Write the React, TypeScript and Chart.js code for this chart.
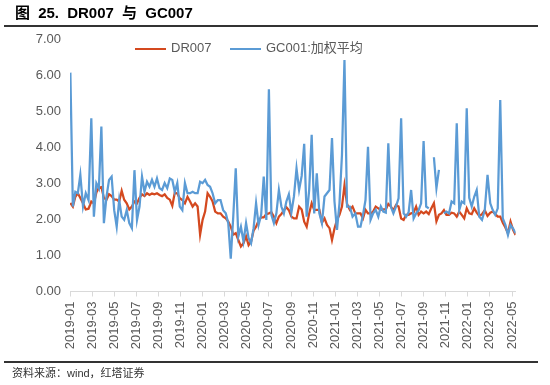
import React, { useEffect, useRef } from "react";
import { Chart, registerables } from "chart.js";

Chart.register(...registerables);

// ---- data (weekly samples starting 2019-01-02) ----
const START_DATE = "2019-01-02";
const STEP_DAYS = 7;

const DR007: (number | null)[] = [
  2.46, 2.36, 2.63, 2.73, 2.6, 2.45, 2.28, 2.3, 2.5, 2.45,
  2.75, 2.88, 2.9, 2.6, 2.55, 2.7, 2.65, 2.55, 2.55, 2.5,
  2.8, 2.55, 2.45, 2.28, 2.36, 2.5, 2.45, 2.6, 2.7, 2.65,
  2.73, 2.68, 2.72, 2.7, 2.73, 2.68, 2.65, 2.7, 2.6, 2.55,
  2.38, 2.75, 2.72, 2.59, 2.54, 2.45, 2.63, 2.5, 2.36, 2.45,
  2.36, 1.58, 1.99, 2.22, 2.73, 2.63, 2.5, 2.22, 2.17, 2.17,
  2.08, 2.03, 1.94, 1.8, 1.58, 1.62, 1.43, 1.25, 1.34, 1.53,
  1.29, 1.39, 1.69, 1.8, 1.97, 2.06, 2.06, 2.15, 2.17, 2.2,
  2.08, 1.9, 2.08, 2.15, 2.26, 2.34, 2.26, 2.08, 2.03, 2.03,
  2.36, 2.28, 1.94, 1.8, 2.17, 2.45, 2.27, 2.27, 2.27, 1.91,
  2.03, 1.85, 1.76, 1.43, 1.75, 1.99, 2.13, 2.36, 2.95, 2.43,
  2.27, 2.36, 2.17, 2.17, 2.17, 2.03, 2.27, 2.17, 2.17, 2.22,
  2.36, 2.31, 2.27, 2.28, 2.28, 2.43, 2.36, 2.25, 2.4, 2.36,
  2.03, 1.99, 2.13, 2.13, 2.17, 2.19, 2.36, 2.13, 2.22, 2.17,
  2.22, 2.15, 2.31, 2.45, 1.95, 2.13, 2.17, 2.26, 2.13, 2.13,
  2.19, 2.17, 2.08, 2.22, 2.13, 2.03, 2.31, 2.17, 2.15, 2.31,
  2.19, 2.1, 2.15, 2.26, 2.1, 2.19, 2.22, 2.15, 2.08, 2.08,
  1.91, 1.78, 1.62, 1.94, 1.71, 1.57,
];

const GC001: (number | null)[] = [
  6.08, 2.36, 2.77, 2.73, 3.24, 2.36, 2.73, 2.54, 4.81, 2.08,
  3.01, 2.87, 4.58, 1.9, 2.63, 3.1, 3.19, 2.26, 1.8, 2.54,
  2.08, 1.99, 2.26, 1.9, 1.76, 3.37, 1.99, 2.36, 3.19, 2.77,
  3.05, 2.91, 3.1, 2.91, 3.14, 2.87, 2.82, 3.01, 2.87, 3.14,
  3.1, 2.77, 3.01, 2.36, 2.26, 3.01, 2.73, 2.73, 2.77, 2.73,
  2.73, 3.05, 3.01, 3.1, 2.96, 2.91, 2.73, 2.45, 2.54, 2.54,
  2.26, 2.17, 1.9, 0.91, 2.08, 3.42, 1.53, 1.8, 1.39, 1.9,
  1.48, 1.34, 1.76, 2.45, 1.85, 2.13, 3.19, 1.99, 5.62, 2.13,
  1.9, 2.17, 2.82, 2.36, 2.17, 2.5, 2.7, 2.19, 2.64, 3.42,
  2.82, 3.21, 4.1, 2.08, 2.82, 4.35, 2.17, 3.28, 2.17, 1.9,
  2.64, 2.73, 2.82, 4.26, 2.5, 1.71, 2.45, 3.8, 6.43, 2.36,
  2.36, 2.08, 2.17, 1.8, 1.8, 2.13, 2.54, 4.02, 1.99, 2.17,
  2.27, 2.08, 2.36, 2.22, 2.19, 4.12, 2.36, 2.17, 2.36, 2.59,
  4.81, 2.17, 2.08, 2.2, 2.82, 2.03, 2.17, 2.26, 2.45, 4.18,
  2.36, 2.31, null, 3.73, 2.87, 3.38, null, 2.17, 2.22, 2.17,
  2.5, 2.45, 4.67, 2.26, 2.5, 2.45, 5.09, 2.6, 2.36, 2.63,
  2.82, 2.08, 1.99, 2.26, 3.24, 2.45, 2.26, 2.13, 2.31, 5.32,
  2.03, 1.85, 1.57, 1.85, 1.75, 1.62,
];

const X_TICK_LABELS = [
  "2019-01", "2019-03", "2019-05", "2019-07", "2019-09", "2019-11",
  "2020-01", "2020-03", "2020-05", "2020-07", "2020-09", "2020-11",
  "2021-01", "2021-03", "2021-05", "2021-07", "2021-09", "2021-11",
  "2022-01", "2022-03", "2022-05",
];
const Y_MIN = 0;
const Y_MAX = 7;

const TITLE = "图 25. DR007 与 GC007";
const SOURCE = "资料来源：wind，红塔证券";
const SERIES_NAMES = ["DR007", "GC001:加权平均"];
const COLORS = ["#D4491F", "#5B9BD5"];

// month offset (from 2019-01-01) of the i-th sample date
function monthOffset(i: number): number {
  const [y0, m0, d0] = START_DATE.split("-").map(Number);
  const t = Date.UTC(y0, m0 - 1, d0) + i * STEP_DAYS * 86400000;
  const d = new Date(t);
  const y = d.getUTCFullYear();
  const m = d.getUTCMonth();
  const dim = new Date(Date.UTC(y, m + 1, 0)).getUTCDate();
  return (y - 2019) * 12 + m + (d.getUTCDate() - 1) / dim;
}

const FONT = "'Liberation Sans', Arial, 'Noto Sans CJK SC', sans-serif";

export default function App() {
  const ref = useRef<HTMLCanvasElement | null>(null);

  useEffect(() => {
    if (!ref.current) return;
    const toPts = (arr: (number | null)[]) =>
      arr.map((v, i) => ({ x: monthOffset(i), y: v }));
    const lastX = monthOffset(DR007.length - 1);

    const chart = new Chart(ref.current, {
      type: "line",
      data: {
        datasets: [
          {
            label: SERIES_NAMES[0],
            data: toPts(DR007) as any,
            borderColor: COLORS[0],
            backgroundColor: COLORS[0],
            borderWidth: 2.25,
            pointRadius: 0,
            tension: 0,
            spanGaps: false,
            order: 1,
          },
          {
            label: SERIES_NAMES[1],
            data: toPts(GC001) as any,
            borderColor: COLORS[1],
            backgroundColor: COLORS[1],
            borderWidth: 2.25,
            pointRadius: 0,
            tension: 0,
            spanGaps: false,
            order: 0,
          },
        ],
      },
      options: {
        animation: false,
        responsive: false,
        maintainAspectRatio: false,
        layout: { padding: { left: 8, right: 550 - (70 + lastX * 11.05), top: 39.5, bottom: 33.5 } },
        plugins: { legend: { display: false }, tooltip: { enabled: false }, title: { display: false } },
        scales: {
          x: {
            type: "linear",
            min: 0,
            max: lastX,
            afterFit: (s: any) => {
              s.height = 60;
            },
            grid: {
              display: true,
              drawOnChartArea: false,
              drawTicks: true,
              tickLength: 5,
              color: "#D9D9D9",
            },
            border: { display: true, color: "#D9D9D9", width: 1 },
            ticks: {
              stepSize: 2,
              includeBounds: false,
              autoSkip: false,
              minRotation: 90,
              maxRotation: 90,
              padding: 5,
              color: "#595959",
              font: { family: FONT, size: 13 },
              callback: (v: any) => {
                const idx = Math.round(Number(v) / 2);
                return X_TICK_LABELS[idx] ?? "";
              },
            },
          },
          y: {
            min: Y_MIN,
            max: Y_MAX,
            afterFit: (s: any) => {
              s.width = 62;
            },
            grid: { display: false, drawTicks: false },
            border: { display: false },
            ticks: {
              stepSize: 1,
              padding: 9,
              color: "#595959",
              font: { family: FONT, size: 13 },
              callback: (v: any) => Number(v).toFixed(2),
            },
          },
        },
      },
    });
    return () => chart.destroy();
  }, []);

  const legendText: React.CSSProperties = {
    position: "absolute",
    top: 40,
    fontFamily: FONT,
    fontSize: 13,
    color: "#595959",
    lineHeight: "16px",
    whiteSpace: "nowrap",
  };

  return (
    <div
      style={{
        position: "absolute",
        left: 0,
        top: 0,
        width: 550,
        height: 385,
        background: "#fff",
        overflow: "hidden",
      }}
    >
      <canvas ref={ref} width={550} height={385} style={{ position: "absolute", left: 0, top: 0, width: 550, height: 385 }} />
      <div
        style={{
          position: "absolute",
          left: 15,
          top: 4,
          fontFamily: FONT,
          fontWeight: "bold",
          fontSize: 15,
          lineHeight: "18px",
          color: "#000",
          whiteSpace: "pre",
          wordSpacing: 4,
        }}
      >
        {TITLE}
      </div>
      <div style={{ position: "absolute", left: 4, top: 25, width: 534, height: 1.5, background: "#333" }} />
      <div style={{ position: "absolute", left: 135, top: 47.5, width: 31, height: 2.5, background: COLORS[0] }} />
      <div style={{ ...legendText, left: 171 }}>{SERIES_NAMES[0]}</div>
      <div style={{ position: "absolute", left: 230, top: 47.5, width: 31, height: 2.5, background: COLORS[1] }} />
      <div style={{ ...legendText, left: 266 }}>{SERIES_NAMES[1]}</div>
      <div style={{ position: "absolute", left: 4, top: 361, width: 534, height: 1.5, background: "#333" }} />
      <div
        style={{
          position: "absolute",
          left: 12,
          top: 366,
          fontFamily: FONT,
          fontSize: 11,
          lineHeight: "14px",
          color: "#333",
          whiteSpace: "nowrap",
        }}
      >
        {SOURCE}
      </div>
    </div>
  );
}
